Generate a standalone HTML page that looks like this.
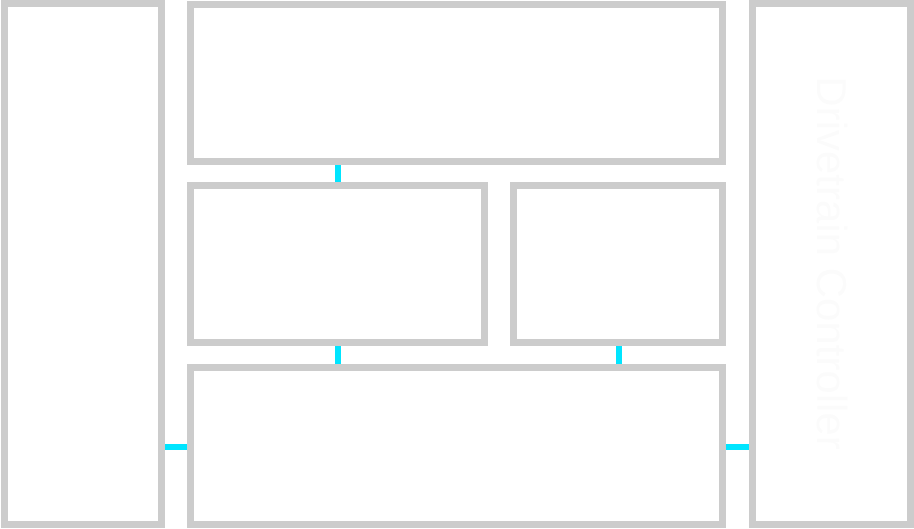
<!DOCTYPE html>
<html><head><style>
body{margin:0;width:914px;height:529px;background:#fff;position:relative;overflow:hidden;font-family:"Liberation Sans",sans-serif}
.b{position:absolute;border:7px solid #cccccc;box-sizing:border-box;background:#fff}
.c{position:absolute;background:#00e5ff}
.t{position:absolute;left:831px;top:263px;transform:translate(-50%,-50%) rotate(90deg);white-space:nowrap;font-size:42px;color:#fbfbfb}
</style></head><body>
<div class="b" style="left:1px;top:0;width:164px;height:528px"></div>
<div class="b" style="left:187px;top:1px;width:539px;height:164px"></div>
<div class="b" style="left:187px;top:182px;width:301px;height:164px"></div>
<div class="b" style="left:510px;top:182px;width:216px;height:164px"></div>
<div class="b" style="left:187px;top:364px;width:539px;height:164px"></div>
<div class="b" style="left:749px;top:0;width:165px;height:528px"></div>
<div class="t">Drivetrain Controller</div>
<div class="c" style="left:335px;top:165px;width:6px;height:17px"></div>
<div class="c" style="left:335px;top:346px;width:6px;height:18px"></div>
<div class="c" style="left:616px;top:346px;width:6px;height:18px"></div>
<div class="c" style="left:165px;top:444px;width:22px;height:6px"></div>
<div class="c" style="left:726px;top:444px;width:23px;height:6px"></div>
</body></html>
